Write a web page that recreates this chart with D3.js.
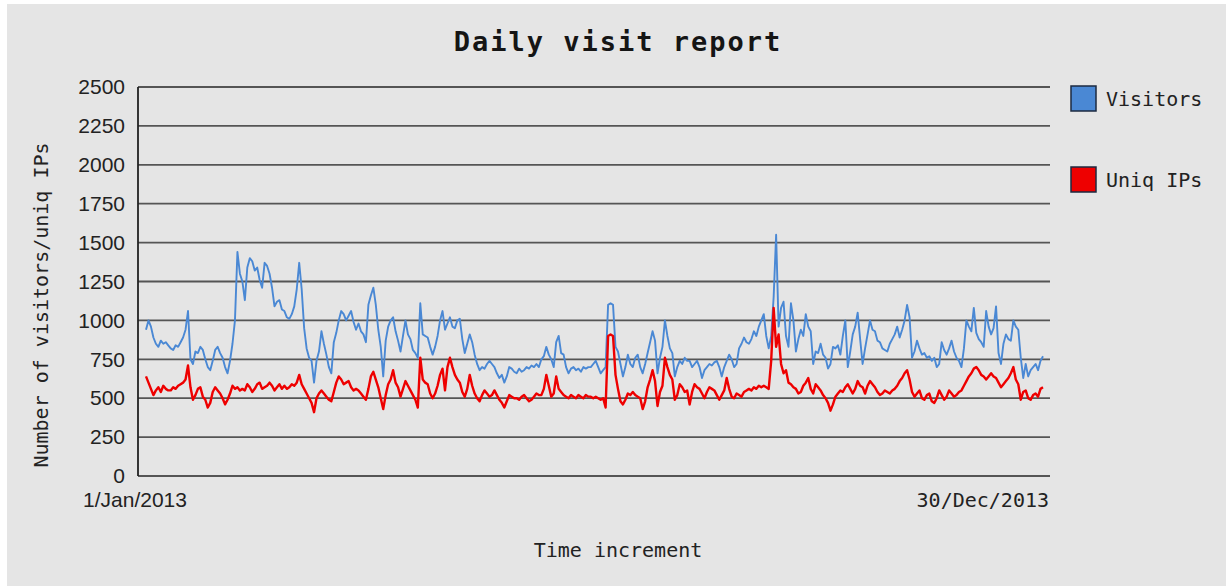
<!DOCTYPE html>
<html>
<head>
<meta charset="utf-8">
<script src="https://cdn.jsdelivr.net/npm/d3@7"></script>
<style>
  body { margin: 0; background: #ffffff; }
  svg { display: block; }
</style>
</head>
<body>
<div class="canvas"></div>
<script>
// daily values, 1/Jan/2013 .. 30/Dec/2013 (10 days per row)
const visitors = [
  940, 1000, 960, 890, 850, 830, 870, 850, 860, 840,
  820, 810, 840, 830, 860, 890, 940, 1060, 750, 720,
  800, 790, 830, 810, 750, 700, 680, 740, 810, 830,
  790, 760, 700, 660, 740, 850, 1000, 1440, 1300, 1250,
  1130, 1340, 1400, 1380, 1320, 1340, 1260, 1210, 1370, 1350,
  1300, 1210, 1090, 1120, 1130, 1070, 1060, 1020, 1010, 1040,
  1090, 1200, 1370, 1200, 950, 820, 760, 740, 600, 740,
  800, 930, 850, 780, 700, 660, 860, 920, 1000, 1060,
  1040, 1000, 1030, 1060, 990, 940, 980, 930, 910, 860,
  1100, 1160, 1210, 1100, 940, 830, 640, 870, 960, 1000,
  1020, 930, 870, 800, 900, 1000, 910, 880, 810, 790,
  760, 1110, 910, 900, 890, 830, 780, 830, 900, 1000,
  1060, 940, 980, 1020, 960, 950, 1000, 1010, 880, 790,
  850, 910, 860, 780, 720, 680, 700, 690, 720, 740,
  720, 700, 660, 630, 650, 600, 640, 700, 690, 670,
  660, 690, 670, 680, 700, 690, 710, 700, 720, 700,
  750, 770, 830, 780, 750, 700, 860, 900, 790, 780,
  700, 660, 690, 700, 680, 690, 670, 700, 690, 700,
  700, 720, 740, 700, 660, 680, 700, 1100, 1110, 1100,
  830, 800, 720, 640, 700, 780, 720, 700, 760, 780,
  700, 660, 720, 790, 860, 930, 870, 660, 760, 830,
  1000, 900, 820, 790, 640, 700, 740, 720, 760, 740,
  740, 700, 720, 740, 700, 630, 680, 700, 720, 710,
  730, 740, 700, 640, 700, 740, 780, 750, 700, 720,
  820, 850, 890, 860, 850, 880, 930, 900, 960, 1000,
  1040, 900, 820, 900, 1150, 1550, 960, 1080, 1120, 900,
  830, 1110, 1000, 800, 880, 940, 900, 1040, 960, 930,
  720, 800, 790, 850, 780, 760, 690, 720, 830, 820,
  840, 780, 900, 1000, 700, 800, 910, 960, 1050, 880,
  720, 820, 910, 1000, 940, 930, 870, 860, 820, 810,
  800, 850, 880, 910, 960, 890, 940, 1000, 1100, 1020,
  760, 800, 870, 820, 780, 790, 760, 770, 740, 760,
  700, 720, 860, 810, 780, 820, 870, 800, 760, 740,
  700, 820, 1000, 960, 930, 1080, 920, 880, 860, 830,
  1060, 960, 910, 950, 1090, 790, 720, 850, 910, 880,
  870, 1000, 960, 940, 760, 630, 720, 640, 680, 700,
  720, 680, 740, 770
];

const uniqIPs = [
  640, 600, 560, 520, 550, 570, 540, 580, 560, 550,
  550, 570, 560, 580, 590, 600, 620, 710, 570, 490,
  520, 560, 570, 510, 490, 440, 470, 540, 570, 550,
  530, 500, 460, 490, 530, 580, 560, 570, 550, 560,
  550, 590, 570, 540, 560, 590, 600, 560, 570, 580,
  600, 580, 550, 570, 590, 560, 580, 560, 570, 590,
  580, 600, 650, 590, 560, 530, 500, 470, 410, 500,
  530, 550, 530, 510, 490, 480, 540, 600, 640, 620,
  590, 600, 610, 570, 550, 560, 550, 530, 510, 490,
  560, 640, 670, 620, 570, 500, 430, 520, 590, 620,
  680, 600, 570, 510, 560, 610, 580, 550, 520, 490,
  440, 760, 620, 600, 590, 530, 500, 530, 580, 650,
  690, 550, 700, 760, 700, 650, 620, 600, 540, 510,
  560, 650, 580, 530, 500, 480, 520, 550, 530, 510,
  520, 550, 520, 490, 470, 440, 480, 520, 510, 500,
  500, 490, 510, 520, 500, 480, 490, 510, 530, 520,
  520, 560, 650, 580, 510, 530, 640, 560, 540, 520,
  510, 500, 520, 510, 500, 520, 510, 500, 520, 510,
  510, 500, 510, 500, 490, 500, 440, 900, 910, 900,
  650, 560, 480, 460, 490, 530, 520, 540, 520, 510,
  500, 430, 480, 570, 620, 680, 610, 450, 540, 580,
  760, 700, 650, 620, 490, 520, 590, 570, 540, 550,
  460, 540, 590, 570, 560, 530, 500, 540, 570, 560,
  550, 520, 490, 520, 550, 630, 560, 510, 500, 530,
  520, 510, 540, 550, 560, 550, 570, 560, 580, 570,
  580, 570, 560, 740, 1080, 830, 910, 720, 660, 680,
  600, 590, 570, 560, 530, 540, 580, 600, 630, 560,
  530, 590, 570, 550, 520, 500, 470, 420, 460, 510,
  530, 550, 540, 570, 590, 560, 530, 560, 610, 580,
  570, 530, 580, 610, 590, 570, 540, 520, 530, 550,
  540, 530, 550, 560, 580, 610, 630, 660, 680, 620,
  540, 510, 530, 550, 500, 490, 520, 530, 480, 470,
  500, 550, 520, 490, 510, 550, 530, 510, 520, 540,
  550, 580, 610, 640, 660, 690, 700, 680, 650, 640,
  620, 640, 660, 640, 630, 600, 570, 590, 610, 630,
  660, 700, 620, 590, 490, 540, 550, 500, 490, 520,
  530, 510, 560, 570
];

const yTicks = [0, 250, 500, 750, 1000, 1250, 1500, 1750, 2000, 2250, 2500];
const xLabels = ["1/Jan/2013", "30/Dec/2013"];
const seriesNames = ["Visitors", "Uniq IPs"];
const seriesColours = ["#4a88d4", "#ee0000"];

const width = 1226, height = 586;
const margin = { top: 87, left: 138 };
const graphWidth = 912;
const graphHeight = 389;
const mono = "'DejaVu Sans Mono', monospace";
const sans = "'Liberation Sans', Arial, sans-serif";

const svg = d3.select('.canvas')
  .append('svg')
    .attr('width', width)
    .attr('height', height);

// grey panel with the thin white edge top and left
svg.append('rect')
  .attr('x', 7).attr('y', 4)
  .attr('width', width - 7).attr('height', height - 4)
  .attr('fill', '#e5e5e5');

svg.append('text')
  .attr('x', 618).attr('y', 51)
  .attr('text-anchor', 'middle')
  .style('font-family', mono)
  .style('font-size', '27px')
  .style('font-weight', 'bold')
  .style('letter-spacing', '2px')
  .attr('fill', '#151515')
  .text('Daily visit report');

const graph = svg.append('g')
  .attr('transform', `translate(${margin.left}, ${margin.top})`);

const x = d3.scaleLinear().domain([0, visitors.length - 1]).range([8, 905]);
const y = d3.scaleLinear().domain([0, 2500]).range([graphHeight, 0]);

// horizontal grid
graph.append('g')
  .selectAll('line')
  .data(yTicks)
  .enter()
  .append('line')
    .attr('x1', 0)
    .attr('x2', graphWidth)
    .attr('y1', d => y(d))
    .attr('y2', d => y(d))
    .attr('stroke', '#555')
    .attr('stroke-width', 1.8);

// y axis labels
const yAxisGroup = graph.append('g')
  .call(d3.axisLeft(y).tickValues(yTicks).tickFormat(d3.format('d')).tickSize(0).tickPadding(13));
yAxisGroup.select('.domain').remove();
yAxisGroup.selectAll('text')
  .style('font-family', sans)
  .style('font-size', '21px')
  .attr('fill', '#222');

// left axis line
graph.append('line')
  .attr('x1', 0).attr('x2', 0)
  .attr('y1', 0).attr('y2', graphHeight)
  .attr('stroke', '#222')
  .attr('stroke-width', 1.8);

// x labels (start and end only)
graph.append('text')
  .attr('x', -3).attr('y', graphHeight + 31)
  .attr('text-anchor', 'middle')
  .style('font-family', sans)
  .style('font-size', '21px')
  .attr('fill', '#222')
  .text(xLabels[0]);

graph.append('text')
  .attr('x', graphWidth - 1).attr('y', graphHeight + 31)
  .attr('text-anchor', 'end')
  .style('font-family', mono)
  .style('font-size', '20px')
  .attr('fill', '#222')
  .text(xLabels[1]);

// axis titles
svg.append('text')
  .attr('x', 618).attr('y', 557)
  .attr('text-anchor', 'middle')
  .style('font-family', mono)
  .style('font-size', '20px')
  .attr('fill', '#222')
  .text('Time increment');

svg.append('text')
  .attr('transform', 'translate(48, 305) rotate(-90)')
  .attr('text-anchor', 'middle')
  .style('font-family', mono)
  .style('font-size', '20px')
  .attr('fill', '#222')
  .text('Number of visitors/uniq IPs');

// the two lines
const line = d3.line()
  .x((d, i) => x(i))
  .y(d => y(d));

[visitors, uniqIPs].forEach((s, i) => {
  graph.append('path')
    .datum(s)
    .attr('fill', 'none')
    .attr('stroke', seriesColours[i])
    .attr('stroke-width', i === 0 ? 1.9 : 2.4)
    .attr('stroke-linejoin', 'round')
    .attr('d', line);
});

// legend
const legend = svg.selectAll('.legend')
  .data(seriesNames)
  .enter()
  .append('g')
  .attr('class', 'legend')
  .attr('transform', (d, i) => `translate(1071, ${86 + i * 81})`);

legend.append('rect')
  .attr('width', 25)
  .attr('height', 25)
  .attr('fill', (d, i) => seriesColours[i])
  .attr('stroke', '#1c2a40')
  .attr('stroke-width', 1.5);

legend.append('text')
  .attr('x', 35)
  .attr('y', 20)
  .style('font-family', mono)
  .style('font-size', '20px')
  .attr('fill', '#222')
  .text(d => d);
</script>
</body>
</html>
